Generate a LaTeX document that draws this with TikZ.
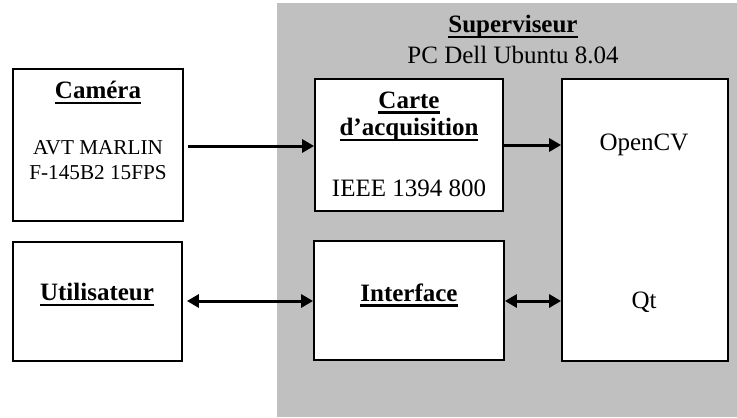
\documentclass[tikz,border=0pt]{standalone}
\usepackage{fontspec}
\setmainfont{Liberation Serif}
\usetikzlibrary{arrows.meta}
\definecolor{panelgray}{RGB}{192,192,192}
\newcommand\thul[1]{{\setbox0\hbox{#1}\leavevmode\rlap{\vrule height -1.5pt depth 2.8pt width \wd0}\box0}}
\tikzset{
  blk/.style={draw=black, line width=0.9pt, fill=white, inner sep=0pt},
  lbl/.style={inner sep=0pt, font=\fontsize{12.5}{14}\selectfont, align=center},
  conn/.style={line width=1.5pt, -{Triangle[length=6pt,width=6.5pt]}},
  bconn/.style={line width=1.5pt, {Triangle[length=6pt,width=6.5pt]}-{Triangle[length=6pt,width=6.5pt]}},
}
\begin{document}
\begin{tikzpicture}[x=0.5pt, y=-0.5pt]
\useasboundingbox (0,0) rectangle (737,417);
% supervisor panel
\fill[panelgray] (277,3) rectangle (737,417);
% boxes
\node[blk, minimum width=85pt, minimum height=76pt] (cam) at (98,145) {};
\node[blk, minimum width=94pt, minimum height=66pt] (carte) at (409,145) {};
\node[blk, minimum width=83pt, minimum height=141pt] (soft) at (645,220) {};
\node[blk, minimum width=84.5pt, minimum height=59.5pt] (user) at (97.5,301.5) {};
\node[blk, minimum width=95pt, minimum height=59.5pt] (iface) at (409,300.5) {};
% texts
\node[lbl] (supt) at (513,27) {\textbf{\thul{Superviseur}}};
\node[lbl] (supd) at (513,55) {PC Dell Ubuntu 8.04};
\node[lbl] (camt) at (98,93) {\textbf{\thul{Caméra}}};
\node[lbl, font=\fontsize{10.6}{12.5}\selectfont] (camd) at (98,160.5) {AVT MARLIN\\F-145B2 15FPS};
\node[lbl] (cart1) at (409,103) {\textbf{\thul{Carte}}};
\node[lbl] (cart2) at (409,130) {\textbf{\thul{d’acquisition}}};
\node[lbl] (card) at (409,188) {IEEE 1394 800};
\node[lbl] (ocv) at (644,145) {OpenCV};
\node[lbl] (qt) at (644,302) {Qt};
\node[lbl] (usert) at (97,295) {\textbf{\thul{Utilisateur}}};
\node[lbl] (ifacet) at (409,295) {\textbf{\thul{Interface}}};
% connectors
\draw[conn] ([xshift=2pt]cam.east |- 0,146) -- (carte.west |- 0,146);
\draw[conn] (carte.east |- 0,145) -- (soft.west |- 0,145);
\draw[bconn] ([xshift=2pt]user.east |- 0,301) -- (iface.west |- 0,301);
\draw[bconn] (iface.east |- 0,301) -- (soft.west |- 0,301);
\end{tikzpicture}
\end{document}
